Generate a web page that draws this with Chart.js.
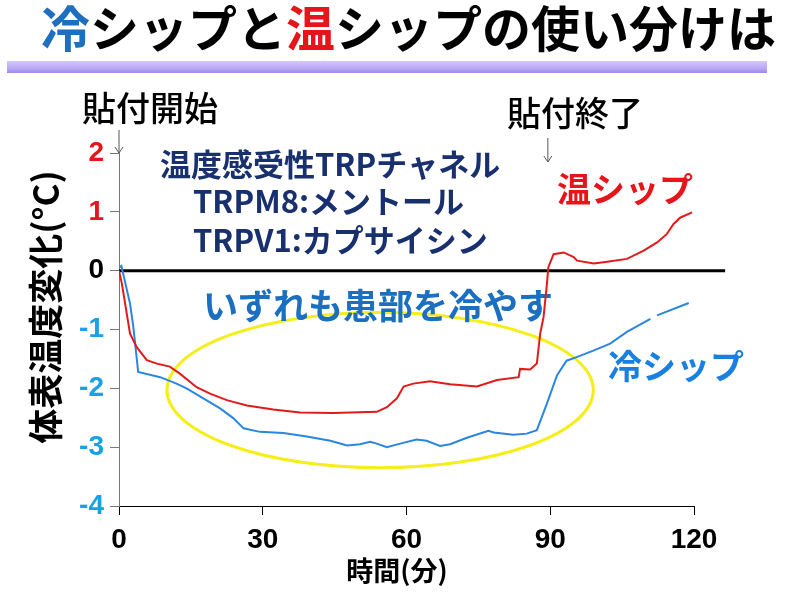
<!DOCTYPE html>
<html lang="ja">
<head>
<meta charset="UTF-8">
<title>冷シップと温シップの使い分けは</title>
<script src="https://cdn.jsdelivr.net/npm/chart.js"></script>
<style>
  html, body { margin: 0; padding: 0; background: #fff; }
  #wrap { position: relative; width: 789px; height: 599px; }
</style>
</head>
<body>
<div id="wrap"><canvas id="chart"></canvas></div>
<script>
// 温シップ (minutes, °C)
const warmTime = [0, 0.6, 2.3, 3.7, 5.8, 7.9, 10.6, 12.7, 16.2, 19, 22.5, 26.7, 32.2, 37.8, 44.7, 53.8,
  55.9, 58, 59.4, 61.4, 64.9, 69.1, 74.7, 78.9, 83.4, 83.7, 85.8, 87.2, 87.9, 88.6, 89.3, 89.6,
  90.7, 92.8, 94.9, 95.6, 99.1, 101.9, 106, 109.5, 112.3, 114.3, 115.7, 117.1, 119.6];
const warmTemp = [0, -0.22, -1.07, -1.3, -1.52, -1.58, -1.63, -1.75, -1.98, -2.09, -2.2, -2.29, -2.36, -2.41, -2.42, -2.4,
  -2.32, -2.17, -1.97, -1.92, -1.88, -1.93, -1.97, -1.86, -1.81, -1.67, -1.68, -1.58, -1.07, -0.79, -0.23, 0.06,
  0.28, 0.31, 0.23, 0.17, 0.12, 0.15, 0.2, 0.34, 0.48, 0.62, 0.79, 0.9, 0.99];

// 冷シップ (minutes, °C) - null = small break in the trace
const coldTime = [0, 0.5, 2.3, 3, 4, 8.6, 12, 14.1, 17.6, 21.1, 23.9, 26, 29.4, 34.3, 39.2, 44.1,
  47.6, 50.3, 52.4, 53.8, 55.9, 58.7, 62.1, 64.2, 67, 69.1, 72.6, 77.1, 78.2, 82.3, 85.1, 87.2,
  89.3, 91.4, 93.4, 95.5, 99, 102.5, 106, 110.9, 111.6, 112.3, 118.9];
const coldTemp = [0.05, 0.08, -0.56, -0.96, -1.72, -1.81, -1.92, -2.0, -2.17, -2.34, -2.51, -2.68, -2.74, -2.76, -2.82, -2.89,
  -2.97, -2.95, -2.91, -2.94, -3.0, -2.94, -2.87, -2.89, -2.98, -2.95, -2.84, -2.72, -2.75, -2.79, -2.77, -2.71,
  -2.26, -1.78, -1.53, -1.47, -1.36, -1.24, -1.04, -0.82, null, -0.76, -0.55];

const xTickValues = [0, 30, 60, 90, 120];
const yTickValues = [-4, -3, -2, -1, 0, 1, 2];

const JP = '"Noto Sans CJK JP", "Noto Sans", sans-serif';
const NUM = '"Liberation Sans", Arial, sans-serif';

function toPoints(ts, vs) {
  return ts.map((t, i) => ({ x: t, y: vs[i] }));
}

function arrow(ctx, x, y1, y2) {
  ctx.beginPath();
  ctx.moveTo(x, y1);
  ctx.lineTo(x, y2);
  ctx.moveTo(x - 4, y2 - 6);
  ctx.lineTo(x, y2);
  ctx.lineTo(x + 4, y2 - 6);
  ctx.stroke();
}

const decor = {
  id: 'decor',
  beforeDatasetsDraw(chart) {
    const { ctx, scales: { x, y } } = chart;
    ctx.save();

    // yellow ellipse
    const cx = x.getPixelForValue(54.5), cy = y.getPixelForValue(-2.03);
    const rx = x.getPixelForValue(99) - cx;
    const ry = y.getPixelForValue(-3.35) - cy;
    ctx.strokeStyle = '#f5ee1a';
    ctx.lineWidth = 3;
    ctx.beginPath();
    ctx.ellipse(cx, cy, rx, ry, 0, 0, Math.PI * 2);
    ctx.stroke();

    // zero line
    const y0 = y.getPixelForValue(0);
    ctx.strokeStyle = '#000';
    ctx.lineWidth = 3;
    ctx.beginPath();
    ctx.moveTo(x.getPixelForValue(0), y0);
    ctx.lineTo(x.getPixelForValue(126.5), y0);
    ctx.stroke();

    ctx.textBaseline = 'middle';
    ctx.textAlign = 'left';

    ctx.fillStyle = '#18306e';
    ctx.font = 'bold 31px ' + JP;
    ctx.fillText('温度感受性TRPチャネル', 160, 164);
    ctx.fillText('TRPM8:メントール', 193, 201);
    ctx.fillText('TRPV1:カプサイシン', 193, 240);

    ctx.fillStyle = '#1a6fc0';
    ctx.font = 'bold 35px ' + JP;
    ctx.fillText('いずれも患部を冷やす', 203, 306);

    ctx.fillStyle = '#e8141b';
    ctx.font = 'bold 34px ' + JP;
    ctx.fillText('温シップ', 557, 189);

    ctx.fillStyle = '#1a80e0';
    ctx.fillText('冷シップ', 608, 366);

    ctx.restore();
  },
  afterDraw(chart) {
    const { ctx, scales: { x } } = chart;
    ctx.save();
    ctx.textBaseline = 'middle';
    ctx.textAlign = 'left';

    // title
    ctx.font = 'bold 49px ' + JP;
    const parts = [['冷', '#1f6fbf'], ['シップと', '#000'], ['温', '#e8141b'], ['シップの使い分けは', '#000']];
    let tx = 41;
    parts.forEach(([s, c]) => {
      ctx.fillStyle = c;
      ctx.fillText(s, tx, 28);
      tx += ctx.measureText(s).width;
    });

    // lavender bar
    const g = ctx.createLinearGradient(0, 61, 0, 73);
    g.addColorStop(0, '#d3c7fb');
    g.addColorStop(0.6, '#bba8f5');
    g.addColorStop(1, '#9f8ae8');
    ctx.fillStyle = g;
    ctx.fillRect(7, 61, 760, 12);

    // start / end labels
    ctx.fillStyle = '#000';
    ctx.font = '500 34px ' + JP;
    ctx.fillText('貼付開始', 82, 108);
    ctx.fillText('貼付終了', 507, 113);

    ctx.strokeStyle = '#555';
    ctx.lineWidth = 1;
    arrow(ctx, x.getPixelForValue(0), 130, 153);
    arrow(ctx, x.getPixelForValue(89.5), 138, 162);

    // axis titles
    ctx.fillStyle = '#000';
    ctx.textAlign = 'center';
    ctx.font = 'bold 27px ' + JP;
    ctx.fillText('時間(分)', 397, 571);

    ctx.translate(46, 307);
    ctx.rotate(-Math.PI / 2);
    ctx.font = 'bold 35px ' + JP;
    ctx.fillText('体表温度変化(°C)', 0, 0);

    ctx.restore();
  }
};

new Chart(document.getElementById('chart'), {
  type: 'line',
  data: {
    datasets: [
      {
        label: '温シップ',
        data: toPoints(warmTime, warmTemp),
        borderColor: '#e31a1a',
        borderWidth: 2,
        pointRadius: 0,
        tension: 0,
        fill: false
      },
      {
        label: '冷シップ',
        data: toPoints(coldTime, coldTemp),
        borderColor: '#2a86e0',
        borderWidth: 2,
        pointRadius: 0,
        tension: 0,
        fill: false,
        spanGaps: false
      }
    ]
  },
  options: {
    responsive: true,
    maintainAspectRatio: false,
    animation: false,
    layout: { padding: { top: 153, right: 95, left: 0, bottom: 0 } },
    plugins: {
      legend: { display: false },
      tooltip: { enabled: false }
    },
    scales: {
      x: {
        type: 'linear',
        min: 0,
        max: 120,
        afterBuildTicks: s => { s.ticks = xTickValues.map(v => ({ value: v })); },
        afterFit: s => { s.height = 93; },
        grid: { drawOnChartArea: false, tickLength: 9, color: '#000' },
        border: { color: '#000', width: 1 },
        ticks: {
          color: '#000',
          padding: 8,
          maxRotation: 0,
          font: { family: NUM, size: 28, weight: 'bold' }
        }
      },
      y: {
        min: -4,
        max: 2,
        afterBuildTicks: s => { s.ticks = yTickValues.map(v => ({ value: v })); },
        afterFit: s => { s.width = 119; },
        grid: { drawOnChartArea: false, tickLength: 9, color: '#777' },
        border: { color: '#777', width: 1 },
        ticks: {
          padding: 6,
          color: c => c.tick.value > 0 ? '#e8141b' : (c.tick.value === 0 ? '#000' : '#1aa0e4'),
          font: { family: NUM, size: 28, weight: 'bold' }
        }
      }
    }
  },
  plugins: [decor]
});
</script>
</body>
</html>
